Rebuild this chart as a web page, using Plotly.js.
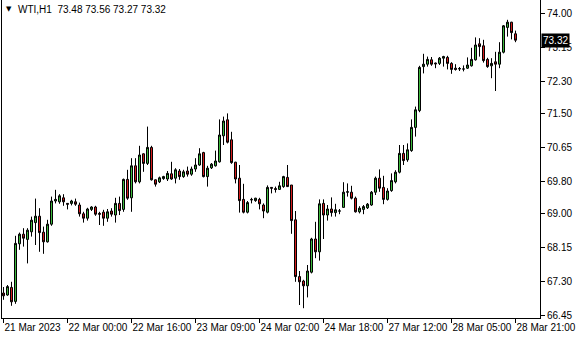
<!DOCTYPE html>
<html>
<head>
<meta charset="utf-8">
<script src="https://cdn.plot.ly/plotly-3.0.1.min.js"></script>
<style>html,body{margin:0;padding:0;background:#fff;}#chart{width:580px;height:340px;}</style>
</head>
<body>
<div id="chart"></div>
<script>
// WTI, H1 candles (bar index order)
var opens = [67.00,66.95,67.14,66.79,68.23,68.47,68.34,68.53,68.76,68.92,68.52,68.28,68.72,69.30,69.28,69.38,69.24,69.24,69.28,69.20,
68.98,68.87,69.09,69.15,68.99,69.02,68.87,69.05,68.95,69.24,69.09,69.84,69.38,70.18,69.78,70.48,70.24,70.64,69.83,69.78,
69.86,69.85,69.98,69.87,70.05,69.91,70.05,69.97,70.10,70.20,70.51,69.91,70.13,70.18,70.28,70.93,71.33,70.83,70.27,69.87,
69.34,69.02,69.34,69.31,69.34,69.20,69.02,69.64,69.61,69.59,69.66,69.89,69.70,68.83,67.41,67.30,67.18,67.52,68.35,68.03,
69.24,68.95,69.10,69.01,69.05,69.14,69.52,69.52,69.37,69.03,69.09,69.13,69.20,69.52,69.87,69.64,69.34,69.56,69.78,70.02,
70.49,70.33,70.56,71.14,71.56,72.66,72.72,72.83,72.75,72.74,72.87,72.89,72.74,72.62,72.60,72.60,72.62,72.68,72.83,73.23,
73.18,72.84,72.68,72.78,72.72,73.02,73.64,73.77,73.48];
var highs = [67.15,67.20,67.28,68.43,68.51,68.62,68.62,68.91,69.36,69.12,68.66,68.83,69.41,69.58,69.47,69.47,69.25,69.33,69.36,69.26,
69.03,69.13,69.17,69.18,69.03,69.08,69.10,69.12,69.38,69.41,69.86,70.08,70.37,70.37,70.68,70.49,71.16,70.68,69.84,69.91,
69.93,70.05,70.28,70.12,70.10,70.08,70.16,70.16,70.37,70.62,70.53,70.18,70.25,70.56,71.34,71.41,71.49,71.03,70.28,70.20,
69.73,69.30,69.38,69.38,69.38,69.24,69.69,69.64,69.66,69.78,69.93,70.20,69.70,69.05,67.55,67.33,67.70,68.38,68.78,69.34,
69.34,69.20,69.39,69.23,69.10,69.77,69.74,69.68,69.41,69.17,69.20,69.25,69.55,69.91,70.09,69.93,69.62,69.99,70.07,70.70,
70.70,70.74,71.34,71.66,72.68,72.98,72.91,72.90,72.76,72.90,72.93,72.93,72.77,72.72,72.65,72.69,72.89,73.13,73.39,73.37,
73.33,72.88,72.87,73.03,73.27,73.70,73.83,73.78,73.56];
var lows = [66.83,66.93,66.68,66.73,68.08,68.16,67.74,68.41,68.20,68.03,67.98,68.26,68.68,69.24,69.23,69.18,69.09,69.19,69.18,68.91,
68.76,68.81,69.05,68.93,68.70,68.68,68.78,68.91,68.76,68.95,69.03,69.33,69.03,69.74,69.74,70.03,70.20,69.81,69.66,69.75,
69.83,69.80,69.83,69.74,69.83,69.88,69.91,69.93,70.03,70.18,69.89,69.66,70.10,70.16,70.26,70.70,70.74,70.23,69.74,69.01,
68.99,68.99,69.24,69.28,69.09,68.87,68.99,69.49,69.51,69.58,69.63,69.65,68.48,67.28,66.70,66.62,66.89,67.49,67.87,67.81,
68.35,68.81,68.91,68.91,68.97,69.14,69.41,69.34,69.01,68.99,68.97,69.10,69.18,69.45,69.53,69.22,69.31,69.53,69.74,69.99,
70.20,70.28,70.53,70.91,71.52,72.49,72.66,72.68,72.62,72.70,72.66,72.59,72.48,72.56,72.55,72.54,72.60,72.66,72.81,72.91,
72.76,72.63,72.37,72.05,72.62,72.99,73.41,73.34,73.27];
var closes = [66.93,67.16,66.78,68.24,68.47,68.37,68.57,68.82,68.92,68.51,68.28,68.72,69.30,69.34,69.43,69.28,69.22,69.30,69.22,68.98,
68.87,69.10,69.15,68.97,68.97,68.87,69.03,68.97,69.24,69.06,69.84,69.37,70.18,69.78,70.45,70.24,70.64,69.83,69.72,69.88,
69.91,69.99,69.85,70.08,69.91,70.03,69.97,70.10,70.20,70.48,69.91,70.12,70.22,70.30,70.95,71.30,70.77,70.26,69.85,69.31,
69.02,69.26,69.33,69.37,69.23,69.05,69.64,69.62,69.59,69.68,69.91,69.66,68.81,67.41,67.28,67.18,67.55,68.35,68.03,69.23,
68.95,69.10,69.01,69.08,69.05,69.52,69.53,69.37,69.03,69.12,69.16,69.22,69.52,69.87,69.62,69.34,69.55,69.81,70.02,70.49,
70.31,70.58,71.14,71.58,72.64,72.72,72.84,72.72,72.73,72.87,72.91,72.74,72.59,72.59,72.61,72.60,72.70,72.84,73.20,73.16,
72.81,72.66,72.74,72.72,73.02,73.68,73.77,73.51,73.32];

var xTickIdx = [0,16,32,48,64,80,96,112,128];
var xTickText = ["21 Mar 2023","22 Mar 00:00","22 Mar 16:00","23 Mar 09:00","24 Mar 02:00","24 Mar 18:00","27 Mar 12:00","28 Mar 05:00","28 Mar 21:00"];
var yTickVals = [74.00,73.15,72.30,71.50,70.65,69.80,69.00,68.15,67.30,66.45];
var symbol = "WTI,H1";
var lastBar = {o:73.48,h:73.56,l:73.27,c:73.32};

var xs = opens.map(function(_, i){ return i; });
var fmt = function(v){ return v.toFixed(2); };

var trace = {
  type: 'candlestick',
  x: xs, open: opens, high: highs, low: lows, close: closes,
  increasing: {line: {color: '#000000', width: 1}, fillcolor: '#3cb83c'},
  decreasing: {line: {color: '#000000', width: 1}, fillcolor: '#d41c1c'},
  whiskerwidth: 0,
  hoverinfo: 'skip',
  showlegend: false
};

var font = {family: '"Liberation Sans", Arial, sans-serif', size: 10, color: '#000'};

var layout = {
  width: 580, height: 340,
  margin: {l: 2, r: 40, t: 0, b: 22},
  paper_bgcolor: '#ffffff', plot_bgcolor: '#ffffff',
  boxgap: 0.5,
  boxgroupgap: 0,
  showlegend: false,
  font: font,
  xaxis: {
    range: [-0.375, 134.125], fixedrange: true,
    rangeslider: {visible: false},
    showgrid: false, zeroline: false,
    showline: true, linecolor: '#000', linewidth: 1,
    ticks: 'outside', ticklen: 4, tickcolor: '#000', tickwidth: 1,
    tickmode: 'array', tickvals: xTickIdx, ticktext: xTickText,
    ticklabelposition: 'outside right', tickangle: 0,
    tickfont: font
  },
  yaxis: {
    side: 'right',
    range: [66.375, 74.325], fixedrange: true,
    showgrid: false, zeroline: false,
    showline: true, mirror: true, linecolor: '#000', linewidth: 1,
    ticks: 'outside', ticklen: 4, tickcolor: '#000', tickwidth: 1,
    tickmode: 'array', tickvals: yTickVals, ticktext: yTickVals.map(fmt),
    tickfont: font
  },
  annotations: [
    {xref: 'paper', yref: 'paper', x: 0, y: 1, xanchor: 'left', yanchor: 'top',
     xshift: 2, yshift: -3, showarrow: false, text: '\u25BC',
     font: {family: 'DejaVu Sans', size: 7, color: '#000'}},
    {xref: 'paper', yref: 'paper', x: 0, y: 1, xanchor: 'left', yanchor: 'top',
     xshift: 14, yshift: -2, showarrow: false,
     text: symbol + '\u00a0\u00a0' + [lastBar.o, lastBar.h, lastBar.l, lastBar.c].map(fmt).join(' '),
     font: font},
    {xref: 'paper', yref: 'y', x: 1, y: lastBar.c, xanchor: 'left', yanchor: 'middle',
     xshift: 1, showarrow: false, text: fmt(lastBar.c), bgcolor: '#000000',
     borderpad: 1, font: {family: font.family, size: 10, color: '#ffffff'}}
  ]
};

Plotly.newPlot('chart', [trace], layout, {displayModeBar: false, staticPlot: true});
</script>
</body>
</html>
